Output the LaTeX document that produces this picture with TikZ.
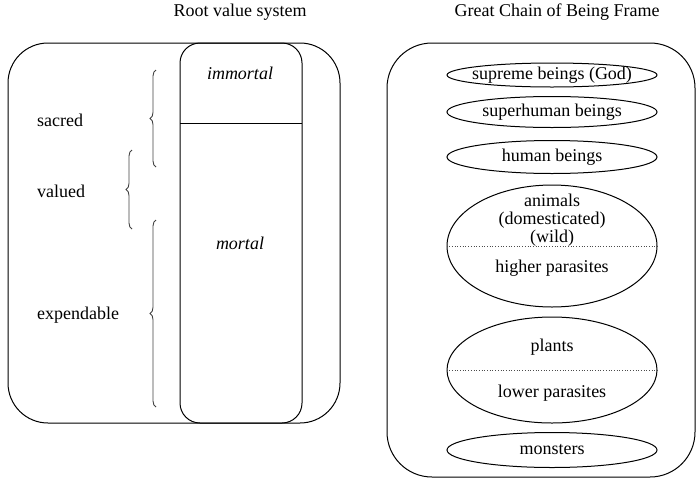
\documentclass[tikz,border=0pt]{standalone}
\usepackage{fontspec}
\setmainfont{Liberation Serif}
\usetikzlibrary{shapes.geometric,decorations.pathreplacing}
\begin{document}
\begin{tikzpicture}[x=1pt,y=-1pt,
  txt/.style={inner sep=0pt,font=\fontsize{18}{18}\selectfont,align=center},
  frame/.style={draw,line width=1pt,rectangle,inner sep=0pt},
  oval/.style={draw,line width=1pt,ellipse,inner sep=0pt,minimum width=210pt},
  bracestyle/.style={draw=black!75,line width=0.9pt,decorate,decoration={brace,amplitude=6pt}},
  divider/.style={line width=0.7pt,dotted,black!70}]
\useasboundingbox (0,0) rectangle (698,480);
% titles
\node[txt] (t1) at (240,12) {Root value system};
\node[txt] (t2) at (557,12) {Great Chain of Being Frame};
% left frame
\node[frame,rounded corners=40pt,minimum width=332pt,minimum height=380pt] (lbox) at (174,233) {};
\node[frame,rounded corners=20pt,minimum width=122pt,minimum height=380pt] (col) at (241,233) {};
\coordinate (dl) at (180,123);
\coordinate (dr) at (302,123);
\draw[line width=0.8pt] (dl) -- (dr);
\node[txt,font=\fontsize{18}{18}\selectfont\itshape] (imm) at (240,73) {immortal};
\node[txt,font=\fontsize{18}{18}\selectfont\itshape] (mor) at (240,243) {mortal};
% braces
\coordinate (b1a) at (156,167); \coordinate (b1b) at (156,70);
\coordinate (b2a) at (132,229); \coordinate (b2b) at (132,150);
\coordinate (b3a) at (156,407); \coordinate (b3b) at (156,220);
\draw[bracestyle] (b1a) -- (b1b);
\draw[bracestyle] (b2a) -- (b2b);
\draw[bracestyle] (b3a) -- (b3b);
\node[txt,anchor=west] (sac) at (37,120) {sacred};
\node[txt,anchor=west] (val) at (37,191) {valued};
\node[txt,anchor=west] (exp) at (37,315) {expendable};
% right frame
\node[frame,rounded corners=45pt,minimum width=308pt,minimum height=434pt] (rbox) at (541,260) {};
\node[oval,minimum height=24pt] (e1) at (552,75) {};
\node[txt] (e1t) at (e1.center) {supreme beings (God)};
\node[oval,minimum height=31pt] (e2) at (552,112) {};
\node[txt] (e2t) at (e2.center) {superhuman beings};
\node[oval,minimum height=33pt] (e3) at (552,157) {};
\node[txt] (e3t) at (e3.center) {human beings};
\node[oval,minimum height=122pt] (e4) at (552,246) {};
\draw[divider] (e4.west) -- (e4.east);
\node[txt] (e4a) at (552,220) {animals\\(domesticated)\\(wild)};
\node[txt] (e4b) at (552,268) {higher parasites};
\node[oval,minimum height=106pt] (e5) at (552,370) {};
\draw[divider] (e5.west) -- (e5.east);
\node[txt] (e5a) at (552,347) {plants};
\node[txt] (e5b) at (552,393) {lower parasites};
\node[oval,minimum height=35pt] (e6) at (552,450) {};
\node[txt] (e6t) at (e6.center) {monsters};
\end{tikzpicture}
\end{document}
